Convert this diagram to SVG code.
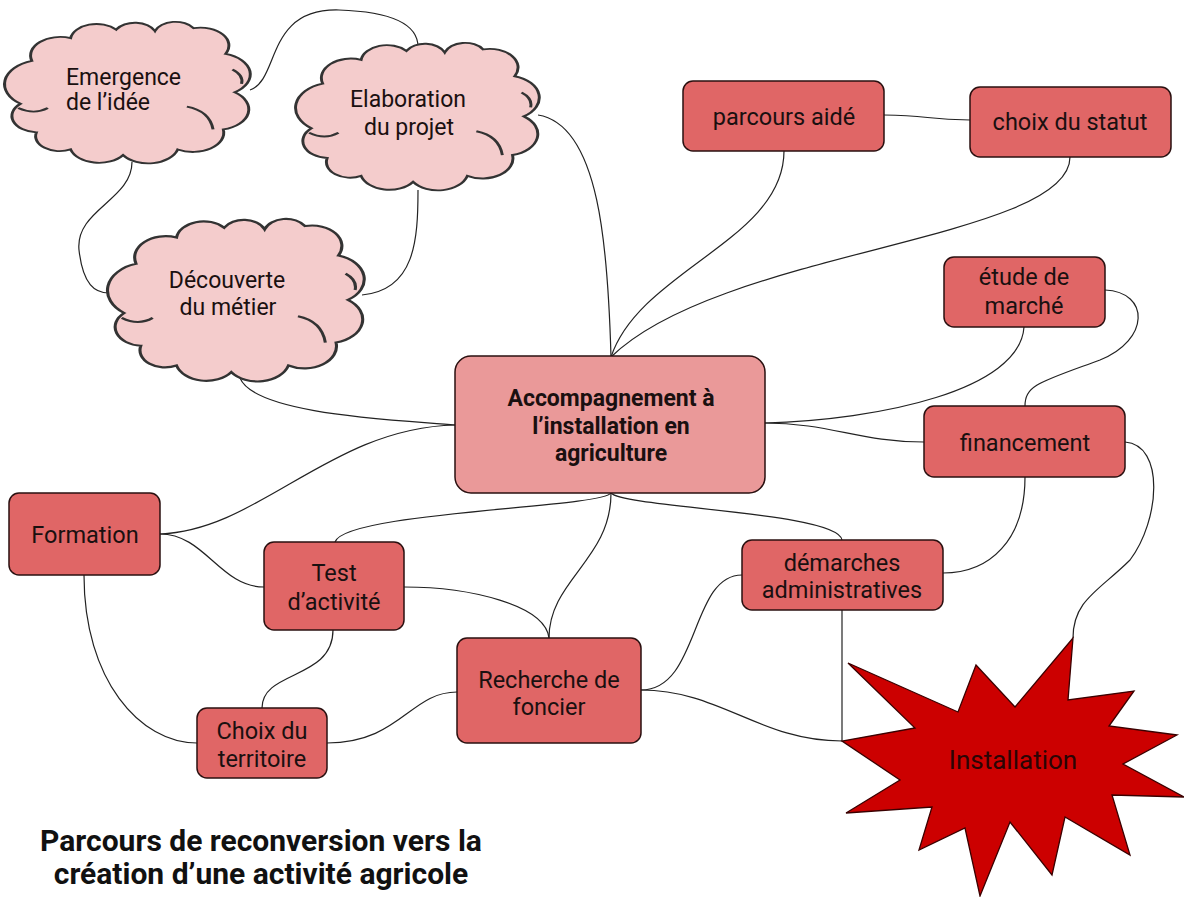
<svg xmlns="http://www.w3.org/2000/svg" width="1184" height="897" viewBox="0 0 1184 897">
<defs>
<style>
.t{font-family:Roboto,"Liberation Sans",sans-serif;font-size:23.5px;fill:#1a1010;text-anchor:middle}
.tl{text-anchor:start}
.b{font-weight:bold}
.box{fill:#e06666;stroke:#2a1010;stroke-width:1.5}
.cloud{fill:#f4cccc;stroke:#333;stroke-width:1.3}
.curl{fill:none;stroke:#333;stroke-width:1.3}
.c{fill:none;stroke:#222;stroke-width:1.2}
</style>
<path id="cloudShape" d="M3 60 A17 17 0 0 1 8 30 A13 13 0 0 1 25 14 A11.5 11.5 0 0 1 45 8 A9.5 9.5 0 0 1 62 9 A9.5 9.5 0 0 1 79 7 A12.5 12.5 0 0 1 93 25 A15 15 0 0 1 97 52 A14.5 14.5 0 0 1 92 78 A13.5 13.5 0 0 1 72 92 A13.5 13.5 0 0 1 48 96 A13 13 0 0 1 25 92 A10.5 10.5 0 0 1 10 80 A11.5 11.5 0 0 1 3 60 Z"/>
<path id="cloudCurls" d="M2 63 Q9 68 15 63 M76 62 Q86 65 87.5 78 M96 36 Q101 40 100 46"/>
</defs>

<g id="connectors">
<path class="c" d="M250 90 C280 80 265 8 339 10 C400 12 418 28 418 47"/>
<path class="c" d="M132 162 C132 200 75 210 79 250 C83 285 95 293 109 293"/>
<path class="c" d="M418 190 C418 240 415 290 362 295"/>
<path class="c" d="M538 115 C600 125 608 250 611 357"/>
<path class="c" d="M884 115 C930 115 925 120 970 120"/>
<path class="c" d="M784 151 C784 240 640 270 611 357"/>
<path class="c" d="M1070 157 C1070 240 720 250 611 357"/>
<path class="c" d="M240 378 C255 415 400 420 455 425"/>
<path class="c" d="M160 534 C260 530 330 428 455 425"/>
<path class="c" d="M764 423 C880 420 1020 390 1024 327"/>
<path class="c" d="M764 423 C830 423 860 442 924 442"/>
<path class="c" d="M1105 290 C1150 292 1150 340 1100 360 C1040 382 1025 385 1025 406"/>
<path class="c" d="M1025 477 C1025 540 990 573 943 573"/>
<path class="c" d="M1125 442 C1165 445 1160 520 1130 560 C1100 590 1073 600 1073 638"/>
<path class="c" d="M611 493 C600 508 345 512 335 542"/>
<path class="c" d="M611 493 C625 508 838 512 842 540"/>
<path class="c" d="M611 493 C611 560 549 580 549 638"/>
<path class="c" d="M404 587 C470 587 545 605 549 638"/>
<path class="c" d="M160 534 C205 534 220 587 264 587"/>
<path class="c" d="M84 575 C84 680 140 743 197 743"/>
<path class="c" d="M333 630 C333 680 262 670 262 708"/>
<path class="c" d="M327 743 C400 743 410 692 457 692"/>
<path class="c" d="M641 690 C700 690 690 575 742 575"/>
<path class="c" d="M842 610 L842 741"/>
<path class="c" d="M641 690 C720 690 760 741 842 741"/>
</g>

<g id="emergence">
<g transform="translate(13.66 18.15) scale(2.279 1.427)">
<use href="#cloudShape" class="cloud" vector-effect="non-scaling-stroke"/>
<use href="#cloudCurls" class="curl" vector-effect="non-scaling-stroke"/>
</g>
<text class="t tl" x="66" y="85" style="font-size:23px">Emergence</text>
<text class="t tl" x="66" y="110" style="font-size:23px">de l’idée</text>
</g>

<g id="elaboration">
<g transform="translate(304.6 39) scale(2.26 1.488)">
<use href="#cloudShape" class="cloud" vector-effect="non-scaling-stroke"/>
<use href="#cloudCurls" class="curl" vector-effect="non-scaling-stroke"/>
</g>
<text class="t" x="408" y="107" style="font-size:23px">Elaboration</text>
<text class="t" x="409" y="135" style="font-size:23px">du projet</text>
</g>

<g id="decouverte">
<g transform="translate(117 214.6) scale(2.381 1.64)">
<use href="#cloudShape" class="cloud" vector-effect="non-scaling-stroke"/>
<use href="#cloudCurls" class="curl" vector-effect="non-scaling-stroke"/>
</g>
<text class="t" x="227" y="288" style="font-size:23px">Découverte</text>
<text class="t" x="228" y="315" style="font-size:23px">du métier</text>
</g>

<g id="central">
<rect x="455" y="356" width="310" height="137" rx="16" fill="#ea9999" stroke="#2a1010" stroke-width="1.5"/>
<text class="t b" x="611" y="406" style="font-size:23px">Accompagnement à</text>
<text class="t b" x="611" y="434" style="font-size:23px">l’installation en</text>
<text class="t b" x="611" y="461" style="font-size:23px">agriculture</text>
</g>

<g id="parcours">
<rect class="box" x="683" y="81" width="201" height="70" rx="10"/>
<text class="t" x="784" y="125">parcours aidé</text>
</g>

<g id="statut">
<rect class="box" x="970" y="87" width="201" height="70" rx="10"/>
<text class="t" x="1070" y="130">choix du statut</text>
</g>

<g id="etude">
<rect class="box" x="944" y="257" width="161" height="70" rx="10"/>
<text class="t" x="1024" y="285">étude de</text>
<text class="t" x="1024" y="314">marché</text>
</g>

<g id="financement">
<rect class="box" x="924" y="406" width="201" height="71" rx="10"/>
<text class="t" x="1025" y="451">financement</text>
</g>

<g id="demarches">
<rect class="box" x="742" y="540" width="201" height="70" rx="10"/>
<text class="t" x="842" y="571">démarches</text>
<text class="t" x="842" y="598">administratives</text>
</g>

<g id="formation">
<rect class="box" x="9" y="493" width="151" height="82" rx="10"/>
<text class="t" x="85" y="543">Formation</text>
</g>

<g id="test">
<rect class="box" x="264" y="542" width="140" height="88" rx="10"/>
<text class="t" x="334" y="581">Test</text>
<text class="t" x="334" y="610">d’activité</text>
</g>

<g id="recherche">
<rect class="box" x="457" y="638" width="184" height="105" rx="10"/>
<text class="t" x="549" y="688">Recherche de</text>
<text class="t" x="549" y="715">foncier</text>
</g>

<g id="territoire">
<rect class="box" x="197" y="708" width="130" height="70" rx="10"/>
<text class="t" x="262" y="739">Choix du</text>
<text class="t" x="262" y="767">territoire</text>
</g>

<g id="installation">
<polygon points="1073,638 1068,700 1134,691 1109,726 1177,735 1123,764 1184,797 1112,795 1130,855 1065,817 1052,875 1010,822 980,896 965,828 919,850 932,807 846,813 900,780 842,741 915,728 848,663 958,712 976,665 1015,707" fill="#cc0000" stroke="#3a0000" stroke-width="1.3"/>
<text class="t" x="1013" y="769" style="font-size:26px;fill:#2a0505">Installation</text>
</g>

<g id="title">
<text class="t b" x="261" y="851" style="font-size:30px;fill:#111">Parcours de reconversion vers la</text>
<text class="t b" x="261" y="884" style="font-size:30px;fill:#111">création d’une activité agricole</text>
</g>
</svg>
